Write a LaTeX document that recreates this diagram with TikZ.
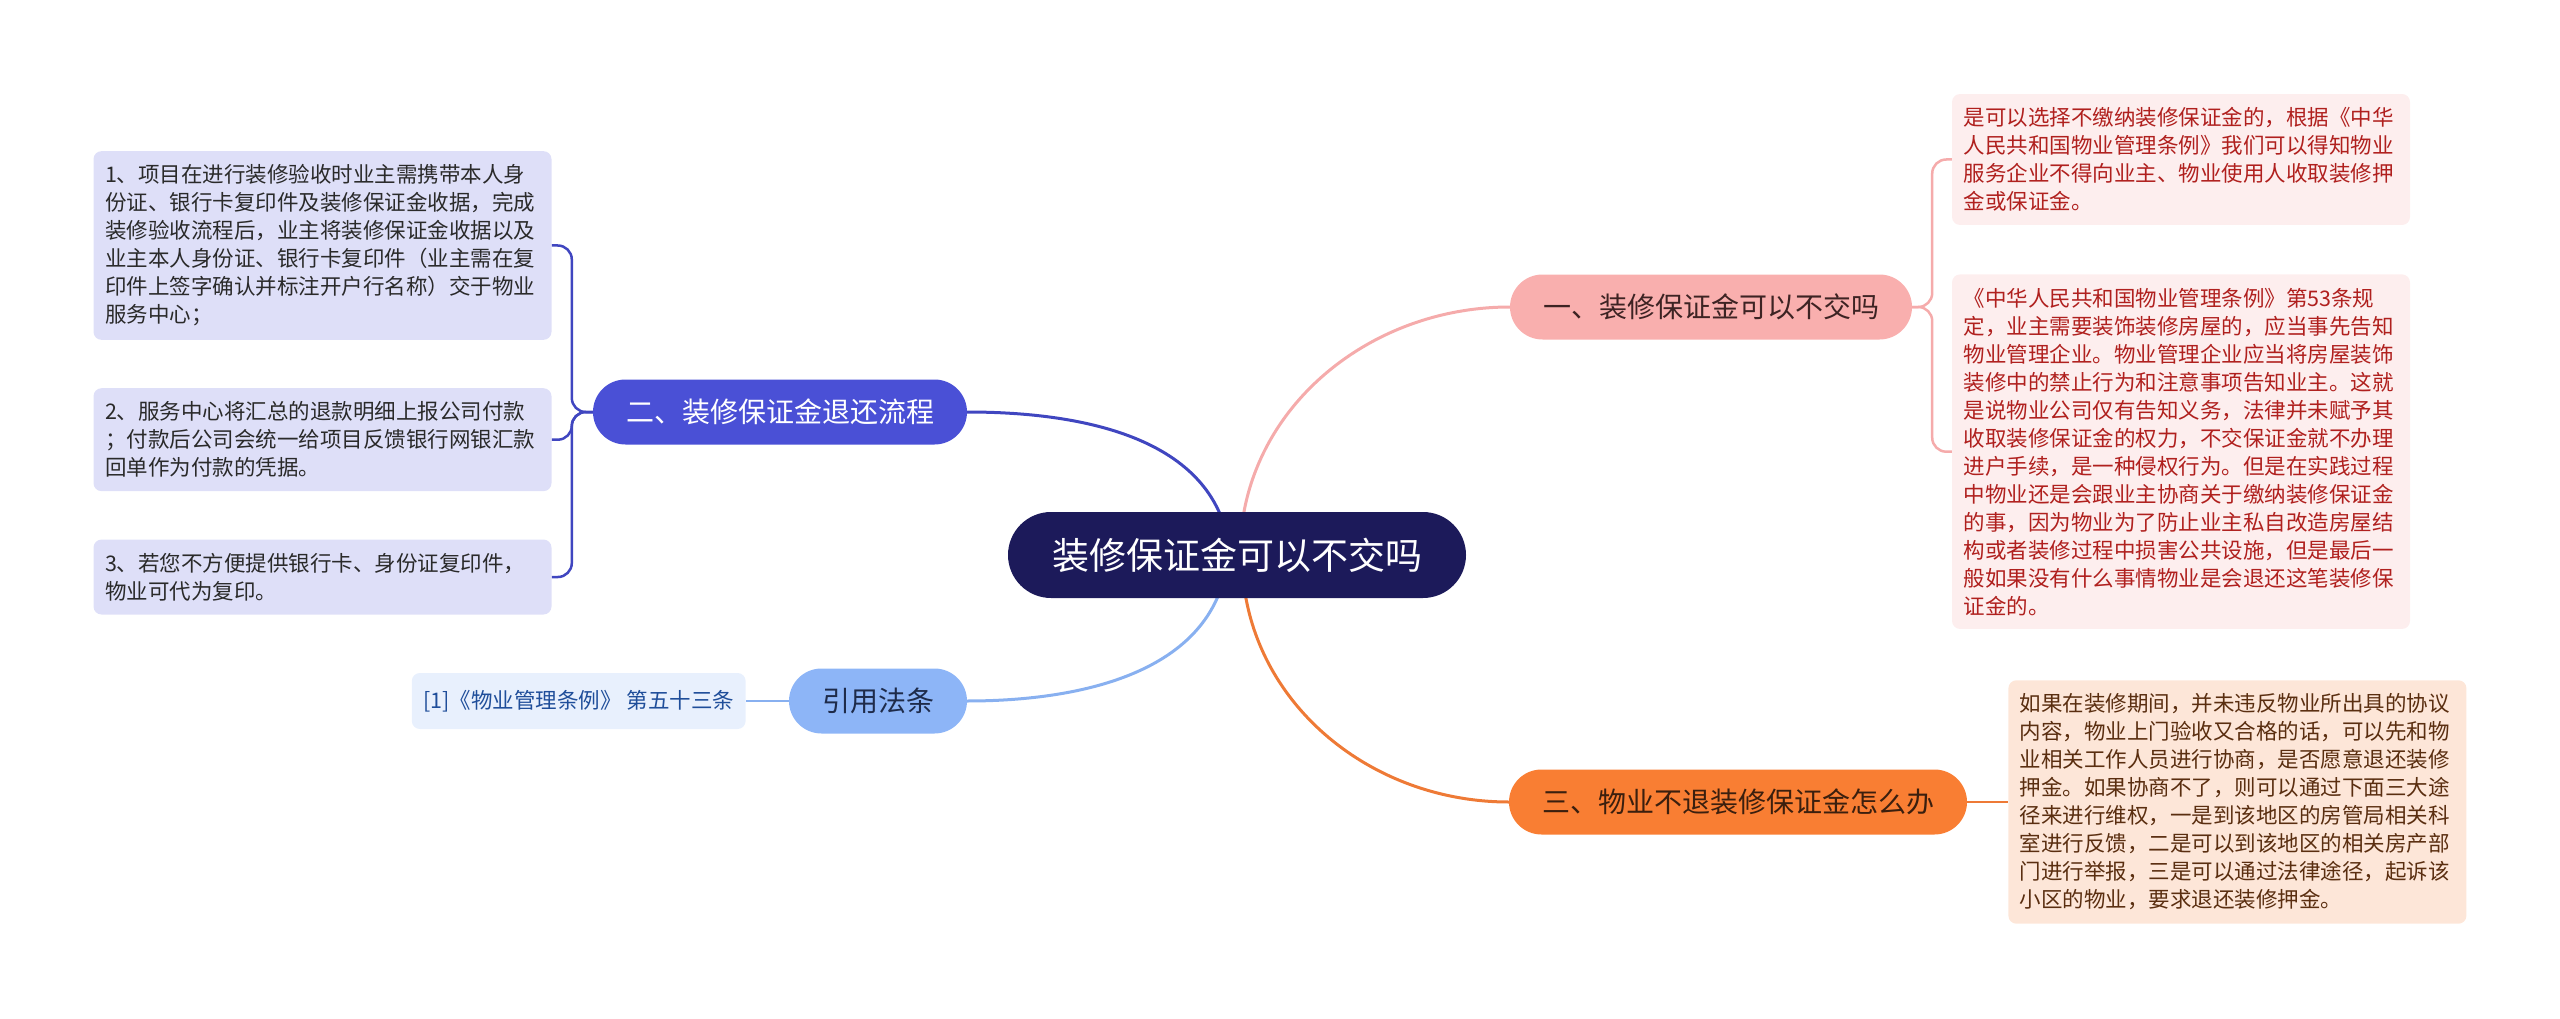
\documentclass[tikz,border=0pt]{standalone}
\usepackage{fontspec}
\setmainfont{Noto Sans CJK SC}
\usetikzlibrary{positioning, backgrounds}

\definecolor{rootfill}{HTML}{1C1A5A}
\definecolor{pinkfill}{HTML}{F9AFAE}
\definecolor{pinkline}{HTML}{F5ABAB}
\definecolor{pinkleaf}{HTML}{FDEEEE}
\definecolor{pinktext}{HTML}{B0201E}
\definecolor{pinktopic}{HTML}{3D2323}
\definecolor{bluefill}{HTML}{4A50D6}
\definecolor{blueline}{HTML}{4046C0}
\definecolor{blueleaf}{HTML}{DEDFF8}
\definecolor{leaftext}{HTML}{2A2A2A}
\definecolor{skyfill}{HTML}{8DB5F7}
\definecolor{skyline}{HTML}{88B0F0}
\definecolor{skyleaf}{HTML}{E8F0FD}
\definecolor{skytext}{HTML}{1F4E9A}
\definecolor{skytopic}{HTML}{1E2B4A}
\definecolor{orangefill}{HTML}{F97E33}
\definecolor{orangeline}{HTML}{EE7A36}
\definecolor{orangeleaf}{HTML}{FDE6D8}
\definecolor{orangetext}{HTML}{5A2E10}
\definecolor{orangetopic}{HTML}{3B1F0E}

\begin{document}
\begin{tikzpicture}[
  x=1pt, y=1pt,
  topic/.style={rounded corners=32.5pt, minimum height=65pt, inner xsep=33pt,
                inner ysep=0pt, font=\fontsize{28}{34}\selectfont},
  leaf/.style={rounded corners=8pt, align=left, text width=435pt, inner xsep=11.5pt,
               inner ysep=13.5pt, font=\fontsize{21.5}{28}\selectfont},
  link/.style={line width=3pt},
  twig/.style={line width=2.5pt, rounded corners=14pt},
]
\useasboundingbox (0,0) rectangle (2560,-1019);
% ---- root ----
\node[fill=rootfill, text=white, rounded corners=43pt, minimum height=86pt,
      inner xsep=44pt, font=\fontsize{37}{44}\selectfont] (root) at (1237,-555)
      {装修保证金可以不交吗};
% ---- topics ----
\node[topic, fill=pinkfill, text=pinktopic] (q1) at (1711,-307) {一、装修保证金可以不交吗};
\node[topic, fill=bluefill, text=white] (q2) at (780,-412) {二、装修保证金退还流程};
\node[topic, fill=skyfill, text=skytopic] (cite) at (878,-701) {引用法条};
\node[topic, fill=orangefill, text=orangetopic] (q3) at (1738,-802) {三、物业不退装修保证金怎么办};
% ---- left leaves ----
\node[leaf, fill=blueleaf, text=leaftext] (l1) at (322.5,-245.5)
  {1、项目在进行装修验收时业主需携带本人身\\份证、银行卡复印件及装修保证金收据，完成\\装修验收流程后，业主将装修保证金收据以及\\业主本人身份证、银行卡复印件（业主需在复\\印件上签字确认并标注开户行名称）交于物业\\服务中心；};
\node[leaf, fill=blueleaf, text=leaftext, below=48pt of l1] (l2)
  {2、服务中心将汇总的退款明细上报公司付款\\；付款后公司会统一给项目反馈银行网银汇款\\回单作为付款的凭据。};
\node[leaf, fill=blueleaf, text=leaftext, below=48pt of l2] (l3)
  {3、若您不方便提供银行卡、身份证复印件，\\物业可代为复印。};
\node[leaf, fill=skyleaf, text=skytext, text width={}, minimum height=56pt,
      left=43pt of cite] (ref) {[1]《物业管理条例》 第五十三条};
% ---- right leaves ----
\node[leaf, fill=pinkleaf, text=pinktext] (r1) at (2181,-159.5)
  {是可以选择不缴纳装修保证金的，根据《中华\\人民共和国物业管理条例》我们可以得知物业\\服务企业不得向业主、物业使用人收取装修押\\金或保证金。};
\node[leaf, fill=pinkleaf, text=pinktext, below=49pt of r1] (r2)
  {《中华人民共和国物业管理条例》第53条规\\定，业主需要装饰装修房屋的，应当事先告知\\物业管理企业。物业管理企业应当将房屋装饰\\装修中的禁止行为和注意事项告知业主。这就\\是说物业公司仅有告知义务，法律并未赋予其\\收取装修保证金的权力，不交保证金就不办理\\进户手续，是一种侵权行为。但是在实践过程\\中物业还是会跟业主协商关于缴纳装修保证金\\的事，因为物业为了防止业主私自改造房屋结\\构或者装修过程中损害公共设施，但是最后一\\般如果没有什么事情物业是会退还这笔装修保\\证金的。};
\node[leaf, fill=orangeleaf, text=orangetext, right=41pt of q3] (r3)
  {如果在装修期间，并未违反物业所出具的协议\\内容，物业上门验收又合格的话，可以先和物\\业相关工作人员进行协商，是否愿意退还装修\\押金。如果协商不了，则可以通过下面三大途\\径来进行维权，一是到该地区的房管局相关科\\室进行反馈，二是可以到该地区的相关房产部\\门进行举报，三是可以通过法律途径，起诉该\\小区的物业，要求退还装修押金。};
% ---- connectors ----
\begin{scope}[on background layer]
  \draw[link, draw=pinkline] ([xshift=3pt]root.center) to[out=90, in=180] (q1.west);
  \draw[link, draw=blueline] ([xshift=-7pt]root.center) to[out=95, in=0] (q2.east);
  \draw[link, draw=skyline] ([xshift=-9pt]root.center) to[out=-95, in=0] (cite.east);
  \draw[link, draw=orangeline] ([xshift=5pt]root.center) to[out=-90, in=180] (q3.west);
  \draw[twig, draw=blueline] (q2.west) -- ++(-21,0) |- (l1.east);
  \draw[twig, draw=blueline] (q2.west) -- ++(-21,0) |- (l2.east);
  \draw[twig, draw=blueline] (q2.west) -- ++(-21,0) |- (l3.east);
  \draw[twig, draw=pinkline] (q1.east) -- ++(20,0) |- (r1.west);
  \draw[twig, draw=pinkline] (q1.east) -- ++(20,0) |- (r2.west);
  \draw[twig, draw=skyline] (cite.west) -- (ref.east);
  \draw[twig, draw=orangeline] (q3.east) -- (r3.west);
\end{scope}
\end{tikzpicture}
\end{document}
